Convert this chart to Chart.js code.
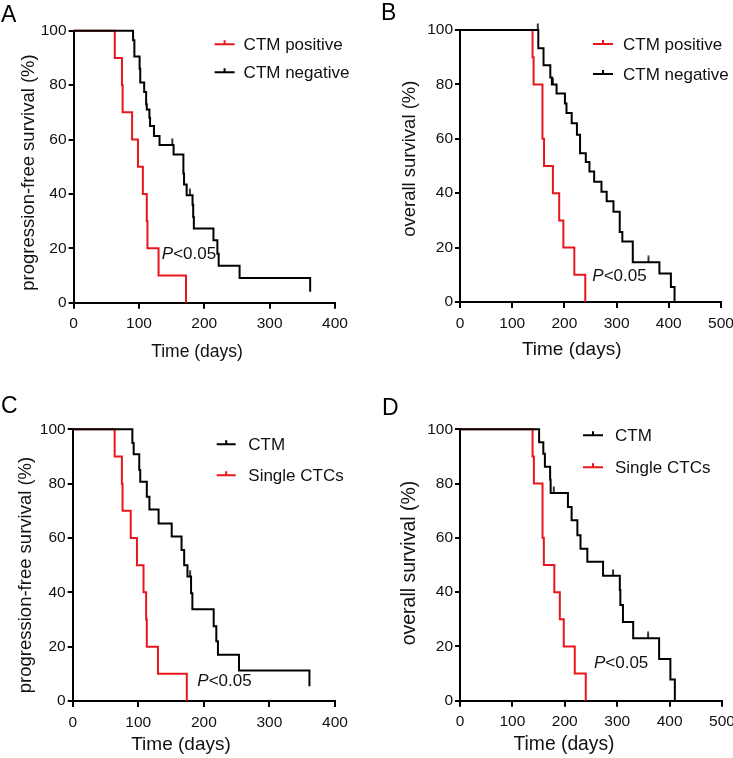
<!DOCTYPE html>
<html>
<head>
<meta charset="utf-8">
<script src="https://cdn.jsdelivr.net/npm/chart.js@4.4.1/dist/chart.umd.min.js"></script>
<style>
  body { margin: 0; width: 733px; height: 758px; overflow: hidden; background: #fff; position: relative;
         font-family: "Liberation Sans", Arial, sans-serif; }
  .panel { position: absolute; height: 379px; }
  .letter { position: absolute; font-size: 23px; line-height: 23px; color: #000; }
</style>
</head>
<body>
<div class="panel" style="left:0;top:0;width:366px"><canvas id="chartA"></canvas></div>
<div class="panel" style="left:366px;top:0;width:380px"><canvas id="chartB"></canvas></div>
<div class="panel" style="left:0;top:379px;width:366px"><canvas id="chartC"></canvas></div>
<div class="panel" style="left:366px;top:379px;width:380px"><canvas id="chartD"></canvas></div>
<div class="letter" style="left:1px;top:3px">A</div>
<div class="letter" style="left:381px;top:1px">B</div>
<div class="letter" style="left:1px;top:394px">C</div>
<div class="letter" style="left:382px;top:396px">D</div>
<script>
// axis ticks
const pfsDayTicks = [0, 100, 200, 300, 400];
const osDayTicks = [0, 100, 200, 300, 400, 500];
const survTicks = [0, 20, 40, 60, 80, 100];

// A: progression-free survival, CTM positive / negative
const pfsPosDays = [0, 63, 74, 75, 89.5, 98.5, 106, 112, 113, 130, 172];
const pfsPosSurv = [100, 90, 80, 70, 60, 50, 40, 30, 20, 10, 0];
const pfsNegDays = [0, 91, 93, 101, 102, 108, 111, 112, 116, 117, 123, 131.5, 153, 168, 169, 173, 182, 183, 184, 214, 220, 222, 254, 362];
const pfsNegSurv = [100, 96.5, 90.5, 86, 81, 77.5, 73, 71, 68, 65, 61.3, 58, 54.5, 47.5, 43.5, 39.5, 36, 31.5, 27.3, 23, 18, 13.6, 9.1, 4];
const pfsNegCensorDays = [151, 178];
const pfsNegCensorSurv = [58, 39.5];

// B: overall survival, CTM positive / negative
const osPosDays = [0, 139, 141, 158, 161, 178, 190, 198, 219, 240];
const osPosSurv = [100, 90, 80, 60, 50, 40, 30, 20, 10, 0];
const osNegDays = [0, 150, 160, 173, 176, 185, 201, 204, 214, 224, 230, 241, 248, 257, 271, 281, 294, 306, 311, 331, 382, 404, 411];
const osNegSurv = [100, 93.3, 87, 82.5, 80, 76.7, 73, 69.5, 65.7, 61.5, 54.7, 51.5, 48, 44.2, 40.5, 37, 33.2, 25.7, 22.2, 14.6, 10.5, 5.5, 0];
const osNegCensorDays = [149, 178, 361];
const osNegCensorSurv = [100, 80, 14.6];

// C: progression-free survival, CTM / single CTCs
const pfsCtmDays = [0, 91, 93, 101.5, 103, 113, 117, 131, 151, 166, 170, 175, 180.5, 182.5, 215, 219, 221.5, 253.6, 361];
const pfsCtmSurv = [100, 95, 90.8, 85, 80.7, 75.2, 70.5, 65.3, 60.5, 55.6, 50, 45.8, 39.7, 33.8, 27.5, 22, 17, 11.2, 5.4];
const pfsCtmCensorDays = [179];
const pfsCtmCensorSurv = [45.8];
const pfsCtcDays = [0, 64, 75, 76, 88.5, 98, 108, 112, 113, 130, 174];
const pfsCtcSurv = [100, 90, 80, 70, 60, 50, 40, 30, 20, 10, 0];

// D: overall survival, CTM / single CTCs
const osCtmDays = [0, 151, 159, 162, 172, 173, 206, 213, 224, 230, 243, 273, 305, 306, 311, 330.5, 380, 401.5, 410];
const osCtmSurv = [100, 95.2, 91, 86.2, 81.4, 76.5, 71.4, 66.5, 61, 56, 51.2, 46, 40.8, 35.3, 29, 23, 15.4, 7.8, 0];
const osCtmCensorDays = [179, 292, 359];
const osCtmCensorSurv = [76.5, 46, 23];
const osCtcDays = [0, 138.5, 141, 157.5, 160, 180, 190.5, 198, 219, 240];
const osCtcSurv = [100, 90, 80, 60, 50, 40, 30, 20, 10, 0];

const RED = '#e8161c';
const BLACK = '#000000';
const FONT = '"Liberation Sans", Arial, sans-serif';

function pts(xs, ys) {
    return xs.map((x, i) => ({ x: x, y: ys[i] }));
}

// small upward tick used for censored cases
function censorMark(color) {
    const c = document.createElement('canvas');
    c.width = 4;
    c.height = 14;
    const g = c.getContext('2d');
    g.strokeStyle = color;
    g.lineWidth = 1.6;
    g.beginPath();
    g.moveTo(2, 0.5);
    g.lineTo(2, 7);
    g.stroke();
    return c;
}

function curve(label, color, xs, ys) {
    return {
        type: 'line', label: label, data: pts(xs, ys), stepped: 'before',
        borderColor: color, borderWidth: 2, pointRadius: 0, fill: false, clip: false
    };
}

function censors(color, xs, ys) {
    return {
        type: 'scatter', label: '', data: pts(xs, ys), pointStyle: censorMark(color),
        pointRadius: 3, borderColor: color, backgroundColor: color, clip: false
    };
}

// legend, P value and axis titles (GraphPad puts these off-centre)
const panelDecor = {
    id: 'panelDecor',
    afterDatasetsDraw(chart, args, opts) {
        const ctx = chart.ctx;
        const area = chart.chartArea;
        const sx = chart.scales.x, sy = chart.scales.y;
        ctx.save();
        ctx.textBaseline = 'middle';
        opts.legend.forEach(item => {
            const y = area.top + item.y;
            const x0 = area.left + opts.lineX0, x1 = area.left + opts.lineX1;
            ctx.strokeStyle = item.color;
            ctx.lineWidth = 2;
            ctx.beginPath();
            ctx.moveTo(x0, y);
            ctx.lineTo(x1, y);
            ctx.moveTo((x0 + x1) / 2, y);
            ctx.lineTo((x0 + x1) / 2, y - 4);
            ctx.stroke();
            ctx.fillStyle = '#111';
            ctx.font = '17px ' + FONT;
            ctx.textAlign = 'left';
            ctx.fillText(item.label, area.left + opts.textX, y + 1);
        });

        const px = sx.getPixelForValue(opts.pX);
        const py = sy.getPixelForValue(opts.pY);
        ctx.fillStyle = '#111';
        ctx.font = 'italic 17px ' + FONT;
        ctx.fillText('P', px, py);
        const w = ctx.measureText('P').width;
        ctx.font = '17px ' + FONT;
        ctx.fillText('<0.05', px + w, py);

        ctx.textAlign = 'center';
        ctx.font = opts.xTitleSize + 'px ' + FONT;
        ctx.fillText('Time (days)', opts.xTitleAt[0], opts.xTitleAt[1]);
        ctx.translate(opts.yTitleAt[0], opts.yTitleAt[1]);
        ctx.rotate(-Math.PI / 2);
        ctx.font = opts.yTitleSize + 'px ' + FONT;
        ctx.fillText(opts.yTitle, 0, 0);
        ctx.restore();
    }
};

function makePanel(id, p) {
    return new Chart(document.getElementById(id), {
        type: 'line',
        data: { datasets: p.datasets },
        options: {
            responsive: true,
            maintainAspectRatio: false,
            animation: false,
            events: [],
            layout: { padding: { left: 0, top: p.padTop, right: p.padRight, bottom: 0 } },
            plugins: {
                legend: { display: false },
                tooltip: { enabled: false },
                panelDecor: p.decor
            },
            scales: {
                x: {
                    type: 'linear', min: 0, max: p.xTicks[p.xTicks.length - 1],
                    afterBuildTicks: s => { s.ticks = p.xTicks.map(v => ({ value: v })); },
                    afterFit: s => { s.height = p.xHeight; },
                    grid: { drawOnChartArea: false, color: BLACK, lineWidth: 2, tickLength: 6 },
                    border: { color: BLACK, width: 2 },
                    ticks: { color: '#111', font: { family: FONT, size: 15.5 }, padding: 6, maxRotation: 0 }
                },
                y: {
                    type: 'linear', min: 0, max: 100,
                    afterBuildTicks: s => { s.ticks = survTicks.map(v => ({ value: v })); },
                    afterFit: s => { s.width = p.yWidth; },
                    grid: { drawOnChartArea: false, color: BLACK, lineWidth: 2, tickLength: 5 },
                    border: { color: BLACK, width: 2 },
                    ticks: { color: '#111', font: { family: FONT, size: 15.5 }, padding: 2 }
                }
            }
        },
        plugins: [panelDecor]
    });
}

makePanel('chartA', {
    xTicks: pfsDayTicks,
    padTop: 30.7, padRight: 31, yWidth: 73.6, xHeight: 76.3,
    datasets: [
        curve('CTM negative', BLACK, pfsNegDays, pfsNegSurv),
        censors(BLACK, pfsNegCensorDays, pfsNegCensorSurv),
        curve('CTM positive', RED, pfsPosDays, pfsPosSurv)
    ],
    decor: {
        lineX0: 141, lineX1: 161, textX: 170, pX: 135, pY: 17.9,
        xTitleAt: [197, 352], xTitleSize: 17.5,
        yTitle: 'progression-free survival (%)', yTitleAt: [28.5, 172.5], yTitleSize: 18.5,
        legend: [
            { label: 'CTM positive', color: RED, y: 13.6 },
            { label: 'CTM negative', color: BLACK, y: 41.6 }
        ]
    }
});

makePanel('chartB', {
    xTicks: osDayTicks,
    padTop: 30, padRight: 25, yWidth: 94, xHeight: 77,
    datasets: [
        curve('CTM negative', BLACK, osNegDays, osNegSurv),
        censors(BLACK, osNegCensorDays, osNegCensorSurv),
        curve('CTM positive', RED, osPosDays, osPosSurv)
    ],
    decor: {
        lineX0: 133, lineX1: 153, textX: 163, pX: 253.5, pY: 9.3,
        xTitleAt: [205.7, 350], xTitleSize: 19,
        yTitle: 'overall survival (%)', yTitleAt: [44, 158.7], yTitleSize: 18.5,
        legend: [
            { label: 'CTM positive', color: RED, y: 14 },
            { label: 'CTM negative', color: BLACK, y: 44 }
        ]
    }
});

makePanel('chartC', {
    xTicks: pfsDayTicks,
    padTop: 50.3, padRight: 31, yWidth: 72.7, xHeight: 57,
    datasets: [
        curve('CTM', BLACK, pfsCtmDays, pfsCtmSurv),
        censors(BLACK, pfsCtmCensorDays, pfsCtmCensorSurv),
        curve('Single CTCs', RED, pfsCtcDays, pfsCtcSurv)
    ],
    decor: {
        lineX0: 144, lineX1: 163, textX: 175.6, pX: 190, pY: 7.2,
        xTitleAt: [181, 366], xTitleSize: 19,
        yTitle: 'progression-free survival (%)', yTitleAt: [25.7, 196], yTitleSize: 18.5,
        legend: [
            { label: 'CTM', color: BLACK, y: 15 },
            { label: 'Single CTCs', color: RED, y: 46 }
        ]
    }
});

makePanel('chartD', {
    xTicks: osDayTicks,
    padTop: 50.3, padRight: 24, yWidth: 94, xHeight: 57.3,
    datasets: [
        curve('CTM', BLACK, osCtmDays, osCtmSurv),
        censors(BLACK, osCtmCensorDays, osCtmCensorSurv),
        curve('Single CTCs', RED, osCtcDays, osCtcSurv)
    ],
    decor: {
        lineX0: 123, lineX1: 143, textX: 155, pX: 255.6, pY: 13.8,
        xTitleAt: [198, 366], xTitleSize: 19.3,
        yTitle: 'overall survival (%)', yTitleAt: [44, 184], yTitleSize: 19.5,
        legend: [
            { label: 'CTM', color: BLACK, y: 6 },
            { label: 'Single CTCs', color: RED, y: 38 }
        ]
    }
});
</script>
</body>
</html>
